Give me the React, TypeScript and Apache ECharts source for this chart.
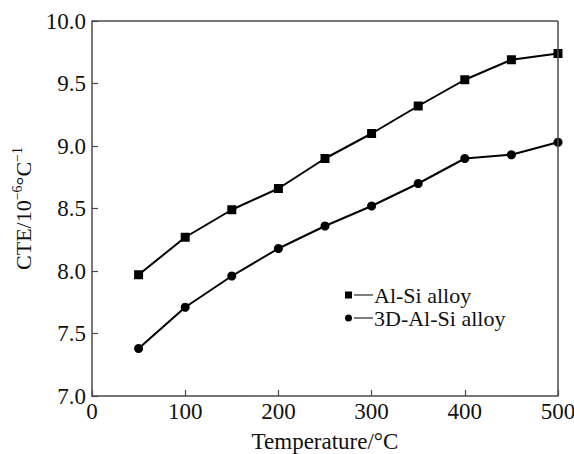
import React, { useEffect, useRef } from "react";
import * as echarts from "echarts";

const temps = [50, 100, 150, 200, 250, 300, 350, 400, 450, 500];
const alSi = [7.97, 8.27, 8.49, 8.66, 8.9, 9.1, 9.32, 9.53, 9.69, 9.74];
const alSi3D = [7.38, 7.71, 7.96, 8.18, 8.36, 8.52, 8.7, 8.9, 8.93, 9.03];
const seriesNames = ["Al-Si alloy", "3D-Al-Si alloy"];

const FONT = "Liberation Serif";
const ICON_SQUARE = "path://M0,0H7V7H0Z M9,3.1H28V3.9H9Z";
const ICON_CIRCLE = "path://M3.5,0A3.5,3.5,0,1,1,3.5,7A3.5,3.5,0,1,1,3.5,0Z M9,3.1H28V3.9H9Z";

export default function App() {
  const ref = useRef<HTMLDivElement>(null);
  useEffect(() => {
    if (!ref.current) return;
    const chart = echarts.init(ref.current, undefined, { renderer: "svg" });
    const axisColor = "#4a4a4a";
    const textColor = "#111";
    chart.setOption({
      animation: false,
      backgroundColor: "#fff",
      grid: { left: 92, right: 16, top: 21, bottom: 58, containLabel: false, outerBoundsMode: "none" },
      legend: {
        left: 340,
        top: 279,
        orient: "vertical",
        itemGap: 1,
        itemWidth: 28,
        itemHeight: 7,
        textStyle: { fontFamily: FONT, fontSize: 22, color: textColor, padding: [0, 0, 0, -4] },
        data: [
          { name: seriesNames[0], icon: ICON_SQUARE, itemStyle: { color: "#000" } },
          { name: seriesNames[1], icon: ICON_CIRCLE, itemStyle: { color: "#000" } },
        ],
      },
      xAxis: {
        type: "value",
        min: 0,
        max: 500,
        interval: 100,
        name: "Temperature/°C",
        nameLocation: "middle",
        nameGap: 34,
        nameTextStyle: { fontFamily: FONT, fontSize: 23, color: textColor },
        axisLine: { show: true, onZero: false, lineStyle: { color: axisColor, width: 1.5 } },
        axisTick: { inside: true, length: 6, lineStyle: { color: axisColor, width: 1.2 } },
        axisLabel: { fontFamily: FONT, fontSize: 23, color: textColor, margin: 4 },
        splitLine: { show: false },
      },
      yAxis: {
        type: "value",
        min: 7.0,
        max: 10.0,
        interval: 0.5,
        name: "{a|CTE/10}{s|−6}{a|°C}{s|−1}",
        nameLocation: "middle",
        nameGap: 58,
        nameTextStyle: {
          fontFamily: FONT,
          fontSize: 22,
          color: textColor,
          rich: {
            a: { fontFamily: FONT, fontSize: 22, color: textColor, lineHeight: 24, verticalAlign: "bottom" },
            s: { fontFamily: FONT, fontSize: 14, color: textColor, lineHeight: 24, verticalAlign: "top" },
          },
        },
        axisLine: { show: true, lineStyle: { color: axisColor, width: 1.5 } },
        axisTick: { inside: true, length: 6, lineStyle: { color: axisColor, width: 1.2 } },
        axisLabel: {
          fontFamily: FONT,
          fontSize: 23,
          color: textColor,
          margin: 6,
          formatter: (v: number) => v.toFixed(1),
        },
        splitLine: { show: false },
      },
      series: [
        {
          name: seriesNames[0],
          type: "line",
          data: temps.map((t, i) => [t, alSi[i]]),
          symbol: "rect",
          symbolSize: 9,
          lineStyle: { color: "#000", width: 2 },
          itemStyle: { color: "#000" },
          clip: false,
        },
        {
          name: seriesNames[1],
          type: "line",
          data: temps.map((t, i) => [t, alSi3D[i]]),
          symbol: "circle",
          symbolSize: 9,
          lineStyle: { color: "#000", width: 2 },
          itemStyle: { color: "#000" },
          clip: false,
        },
        {
          type: "line",
          data: [],
          markLine: {
            silent: true,
            symbol: "none",
            label: { show: false },
            lineStyle: { color: axisColor, width: 1.5, type: "solid" },
            data: [
              [{ coord: [0, 10] }, { coord: [500, 10] }],
              [{ coord: [500, 7] }, { coord: [500, 10] }],
            ],
          },
        },
      ],
    });
    return () => chart.dispose();
  }, []);
  return <div ref={ref} style={{ width: 574, height: 454, position: "absolute", left: 0, top: 0 }} />;
}
